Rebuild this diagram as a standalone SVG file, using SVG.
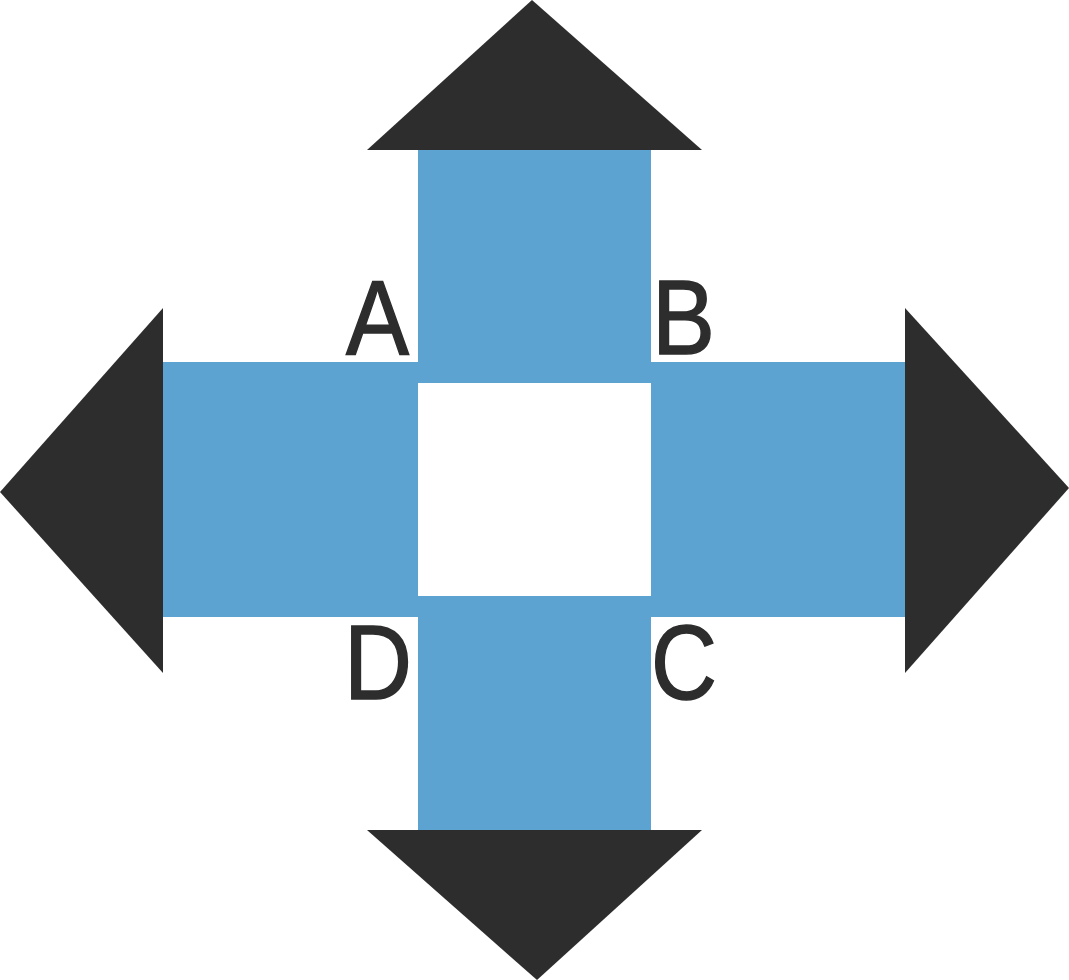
<svg xmlns="http://www.w3.org/2000/svg" width="1069" height="980" viewBox="0 0 1069 980">
<style>
.bar{fill:#5DA3D1}
.head{fill:#2D2D2D}
.lbl{font-family:"Liberation Sans",Arial,sans-serif;font-size:105px;fill:#2D2D2D;stroke:#2D2D2D;stroke-width:1.5}
</style>
<rect width="1069" height="980" fill="#FFFFFF"/>
<g id="cross">
<rect class="bar" x="418" y="150" width="233" height="680"/>
<rect class="bar" x="163" y="362" width="743" height="255"/>
<rect x="418" y="383" width="233" height="213" fill="#FFFFFF"/>
</g>
<g id="arrow-up"><polygon class="head" points="532,0 367,150 702,150"/></g>
<g id="arrow-down"><polygon class="head" points="367,830 702,830 537,980"/></g>
<g id="arrow-left"><polygon class="head" points="163,308 0,492 163,673"/></g>
<g id="arrow-right"><polygon class="head" points="905,308 1069,488 905,673"/></g>
<g id="label-A"><text class="lbl" x="346" y="354" textLength="63" lengthAdjust="spacingAndGlyphs">A</text></g>
<g id="label-B"><text class="lbl" x="652" y="354" textLength="63" lengthAdjust="spacingAndGlyphs">B</text></g>
<g id="label-D"><text class="lbl" x="344" y="699" textLength="68" lengthAdjust="spacingAndGlyphs">D</text></g>
<g id="label-C"><text class="lbl" x="651" y="699" textLength="66" lengthAdjust="spacingAndGlyphs">C</text></g>
</svg>
